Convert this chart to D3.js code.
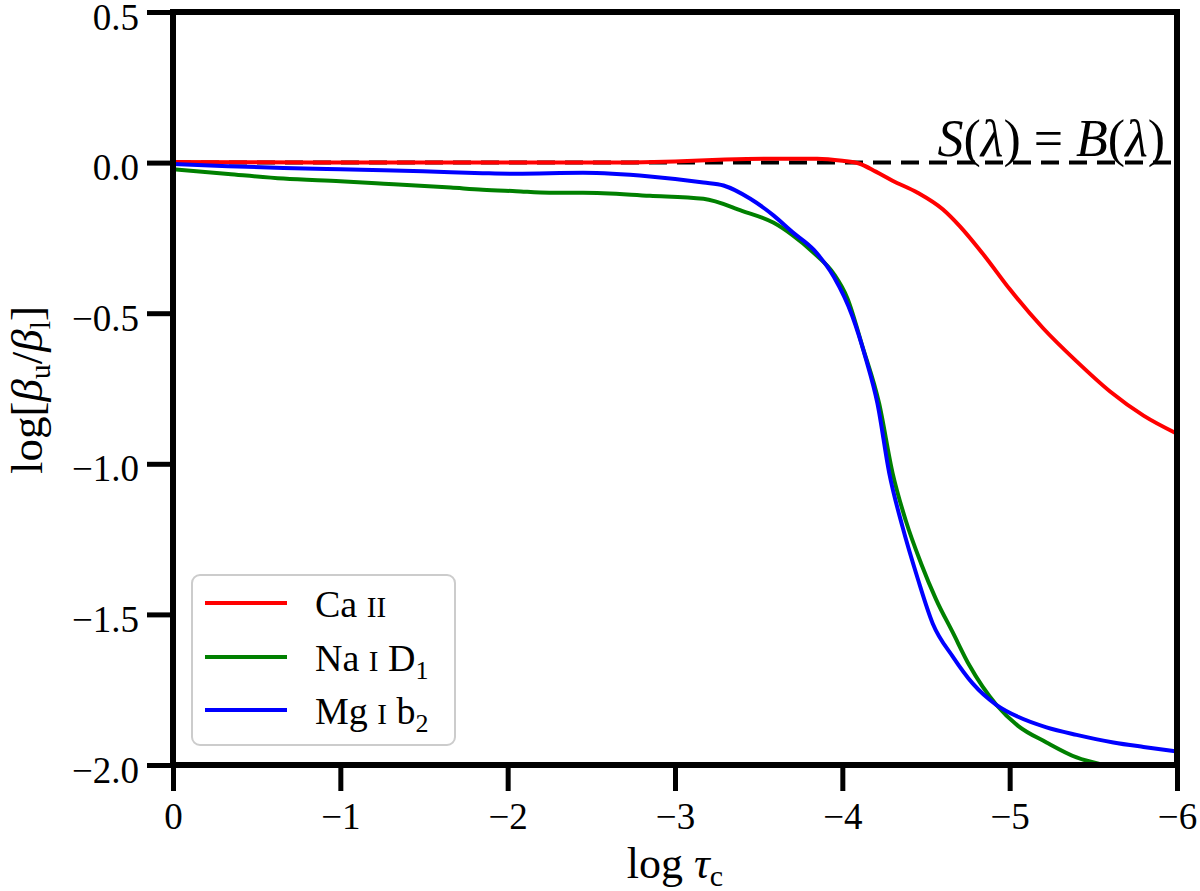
<!DOCTYPE html>
<html><head><meta charset="utf-8">
<script src="https://cdn.jsdelivr.net/npm/d3@7/dist/d3.min.js"></script>
<style>
html,body{margin:0;padding:0;background:#fff;}
svg text{font-family:"Liberation Serif","DejaVu Serif",serif;fill:#000;}
</style></head>
<body><svg id="c" width="1200" height="891"></svg>
<script>
// ---- data ----
const xTicks = [0,-1,-2,-3,-4,-5,-6];
const xTickLabels = ["0","\u22121","\u22122","\u22123","\u22124","\u22125","\u22126"];
const yTicks = [0.5,0.0,-0.5,-1.0,-1.5,-2.0];
const yTickLabels = ["0.5","0.0","\u22120.5","\u22121.0","\u22121.5","\u22122.0"];

const caX = [0,-0.5,-1,-1.5,-2,-2.5,-3,-3.3,-3.6,-3.85,-4.0,-4.1,-4.2,-4.3,-4.45,-4.6,-4.7,-4.85,-5.0,-5.2,-5.4,-5.6,-5.8,-6.0];
const caY = [0.002,0.001,0,0,0,0,0.004,0.01,0.013,0.013,0.006,-0.003,-0.03,-0.06,-0.10,-0.155,-0.21,-0.31,-0.42,-0.55,-0.66,-0.76,-0.84,-0.90];

const naX = [0,-0.33,-0.66,-1.0,-1.26,-1.66,-1.85,-2.05,-2.25,-2.45,-2.85,-3.17,-3.4,-3.59,-3.7,-3.83,-3.95,-4.03,-4.12,-4.22,-4.3,-4.38,-4.47,-4.56,-4.66,-4.76,-4.92,-5.05,-5.22,-5.4,-5.6,-5.8,-6.0];
const naY = [-0.022,-0.038,-0.053,-0.062,-0.07,-0.083,-0.09,-0.095,-0.1,-0.1,-0.11,-0.12,-0.16,-0.2,-0.24,-0.30,-0.37,-0.45,-0.61,-0.80,-1.03,-1.19,-1.33,-1.45,-1.56,-1.67,-1.80,-1.87,-1.925,-1.975,-2.005,-2.03,-2.05];

const mgX = [0,-0.33,-0.66,-1.0,-1.26,-1.66,-1.85,-2.05,-2.45,-2.85,-3.17,-3.29,-3.45,-3.59,-3.7,-3.83,-3.95,-4.06,-4.14,-4.21,-4.28,-4.36,-4.45,-4.54,-4.66,-4.78,-4.92,-5.05,-5.22,-5.4,-5.62,-5.8,-6.0];
const mgY = [-0.005,-0.012,-0.018,-0.022,-0.025,-0.032,-0.035,-0.037,-0.034,-0.046,-0.066,-0.076,-0.12,-0.176,-0.23,-0.29,-0.38,-0.51,-0.65,-0.80,-1.03,-1.21,-1.38,-1.53,-1.64,-1.73,-1.80,-1.84,-1.875,-1.90,-1.925,-1.94,-1.955];

const refX = [0,-6];
const refY = [0,0];

const seriesNames = ["Ca II","Na I D1","Mg I b2"];
const seriesColors = ["#ff0000","#008000","#0000ff"];

// ---- layout ----
const L=173, R=1177, T=12, B=765;
const svg = d3.select("#c");
const x = d3.scaleLinear().domain([0,-6]).range([L,R]);
const y = d3.scaleLinear().domain([-2,0.5]).range([B,T]);

svg.append("defs").append("clipPath").attr("id","clip")
  .append("rect").attr("x",L).attr("y",T).attr("width",R-L).attr("height",B-T);

const plot = svg.append("g").attr("clip-path","url(#clip)");

const line = d3.line().x(d=>x(d[0])).y(d=>y(d[1])).curve(d3.curveMonotoneX);
const zip = (a,b)=>a.map((v,i)=>[v,b[i]]);

// reference dashed
plot.append("path").datum(zip(refX,refY)).attr("d",d3.line().x(d=>x(d[0])).y(d=>y(d[1])))
  .attr("fill","none").attr("stroke","#000").attr("stroke-width",4).attr("stroke-dasharray","18,10");

const sets=[zip(caX,caY),zip(naX,naY),zip(mgX,mgY)];
sets.forEach((s,i)=>{
  plot.append("path").datum(s).attr("d",line).attr("fill","none")
    .attr("stroke",seriesColors[i]).attr("stroke-width",4).attr("stroke-linejoin","round");
});

// axes
const fs=37;
const xAxis = svg.append("g").attr("transform",`translate(0,${B})`)
  .call(d3.axisBottom(x).tickValues(xTicks).tickFormat((d,i)=>xTickLabels[i]).tickSize(26).tickPadding(10));
const yAxis = svg.append("g").attr("transform",`translate(${L},0)`)
  .call(d3.axisLeft(y).tickValues(yTicks).tickFormat((d,i)=>yTickLabels[i]).tickSize(26).tickPadding(8));
[xAxis,yAxis].forEach(a=>{
  a.select(".domain").remove();
  a.selectAll(".tick line").attr("stroke","#000").attr("stroke-width",5);
  a.selectAll(".tick text").style("font-family",'"Liberation Serif",serif').attr("font-size",fs).attr("fill","#000");
});
xAxis.selectAll(".tick text").attr("dy","0.75em");
yAxis.selectAll(".tick text").attr("dy","0.46em");

// frame
svg.append("rect").attr("x",L).attr("y",T).attr("width",R-L).attr("height",B-T)
  .attr("fill","none").attr("stroke","#000").attr("stroke-width",6);

// S = B label
const sb = svg.append("text").attr("x",1165).attr("y",156).attr("text-anchor","end").attr("font-size",52);
sb.append("tspan").attr("font-style","italic").text("S");
sb.append("tspan").text("(");
sb.append("tspan").attr("font-style","italic").text("λ");
sb.append("tspan").text(") = ");
sb.append("tspan").attr("font-style","italic").text("B");
sb.append("tspan").text("(");
sb.append("tspan").attr("font-style","italic").text("λ");
sb.append("tspan").text(")");

// x label
const xl = svg.append("text").attr("x",675).attr("y",878).attr("text-anchor","middle").attr("font-size",44);
xl.append("tspan").text("log ");
xl.append("tspan").attr("font-style","italic").text("τ");
xl.append("tspan").attr("font-size",30).attr("dy",8).text("c");

// y label
const yl = svg.append("text").attr("transform","translate(42,390) rotate(-90)").attr("text-anchor","middle").attr("font-size",45);
yl.append("tspan").text("log[");
yl.append("tspan").attr("font-style","italic").text("β");
yl.append("tspan").attr("font-size",30).attr("dy",8).text("u");
yl.append("tspan").attr("dy",-8).text("/");
yl.append("tspan").attr("font-style","italic").text("β");
yl.append("tspan").attr("font-size",30).attr("dy",8).text("l");
yl.append("tspan").attr("dy",-8).text("]");

// legend
const lg = svg.append("g");
lg.append("rect").attr("x",192).attr("y",575).attr("width",263).attr("height",170).attr("rx",8)
  .attr("fill","#fff").attr("fill-opacity",0.8).attr("stroke","#cccccc").attr("stroke-width",2);
const ly=[603,657,710];
const labelParts=[[["Ca ",38],["II",29]],[["Na ",38],["I",29],[" D",38],["1",26,"sub"]],[["Mg ",38],["I",29],[" b",38],["2",26,"sub"]]];
seriesNames.forEach((n,i)=>{
  lg.append("line").attr("x1",205).attr("x2",287).attr("y1",ly[i]).attr("y2",ly[i])
    .attr("stroke",seriesColors[i]).attr("stroke-width",4);
  const t=lg.append("text").attr("x",315).attr("y",ly[i]+14).attr("font-size",38);
  labelParts[i].forEach(p=>{
    const ts=t.append("tspan").attr("font-size",p[1]).text(p[0]);
    if(p[2]==="sub"){ts.attr("dy",8);}
  });
});
</script></body></html>
